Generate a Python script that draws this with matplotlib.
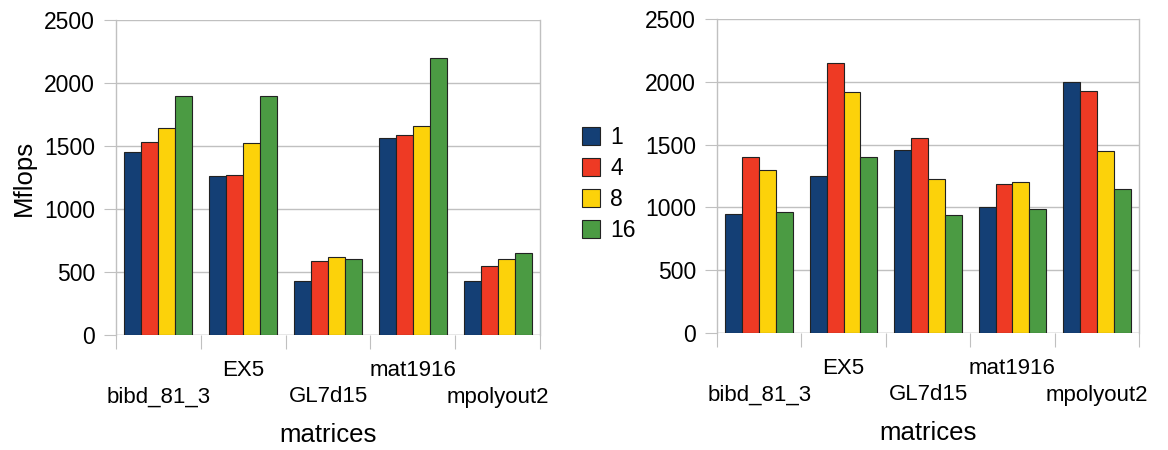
import matplotlib.pyplot as plt
import numpy as np

plt.rcParams["font.family"] = ["Liberation Sans", "DejaVu Sans"]

matrices = ["bibd_81_3", "EX5", "GL7d15", "mat1916", "mpolyout2"]
threads = ["1", "4", "8", "16"]
colors = ["#143f75", "#ee3a24", "#fcd20a", "#4b9b43"]

# Mflops, left chart
left_vals = [
    [1450, 1260, 430, 1560, 430],    # 1
    [1530, 1270, 590, 1590, 550],    # 4
    [1640, 1520, 620, 1660, 605],    # 8
    [1900, 1900, 600, 2200, 650],    # 16
]
# Mflops, right chart
right_vals = [
    [950, 1250, 1460, 1000, 2000],
    [1400, 2150, 1550, 1190, 1930],
    [1300, 1920, 1230, 1200, 1450],
    [960, 1400, 940, 990, 1150],
]

fig = plt.figure(figsize=(11.68, 4.5), dpi=100)
ax1 = fig.add_axes([116 / 1168, 1 - 335 / 450, 424 / 1168, 315 / 450])
ax2 = fig.add_axes([717 / 1168, 1 - 333 / 450, 422 / 1168, 314 / 450])

x = np.arange(len(matrices))
w = 0.2


def draw(ax, vals):
    for i, v in enumerate(vals):
        ax.bar(x + (i - 1.5) * w, v, w, color=colors[i], edgecolor="#222222",
               linewidth=0.8, label=threads[i], zorder=3)
    ax.set_xlim(-0.5, len(matrices) - 0.5)
    ax.set_ylim(0, 2500)
    ax.set_yticks(range(0, 2501, 500))
    ax.grid(axis="y", color="#c0c0c0", linewidth=1, zorder=0)
    for s in ["top", "bottom"]:
        ax.spines[s].set_visible(False)
    for s in ["left", "right"]:
        ax.spines[s].set_color("#c0c0c0")
        ax.spines[s].set_linewidth(1)
    ax.set_xticks(np.arange(len(matrices) + 1) - 0.5)
    ax.set_xticklabels([])
    ax.tick_params(axis="x", length=10, color="#c0c0c0", direction="out")
    ax.tick_params(axis="y", length=9, color="#c0c0c0", labelsize=16.5, pad=6)
    ax.axhline(0, color="#c0c0c0", linewidth=1, zorder=1)
    for j, m in enumerate(matrices):
        off = -36 if j % 2 == 1 else -62
        ax.annotate(m, (j, 0), xycoords=("data", "axes fraction"),
                    xytext=(0, off), textcoords="offset pixels",
                    ha="center", va="center", fontsize=16)
    ax.annotate("matrices", (0.5, 0), xycoords="axes fraction",
                xytext=(0, -100), textcoords="offset pixels",
                ha="center", va="center", fontsize=18.5)


draw(ax1, left_vals)
draw(ax2, right_vals)
ax1.set_ylabel("Mflops", fontsize=18.5, labelpad=6)

ax1.legend(loc="center left", bbox_to_anchor=(1.05, 0.48), frameon=False,
           fontsize=16.5, handlelength=0.8, handleheight=0.8,
           handletextpad=0.45, labelspacing=0.35)

fig.savefig("out.png", dpi=100)
